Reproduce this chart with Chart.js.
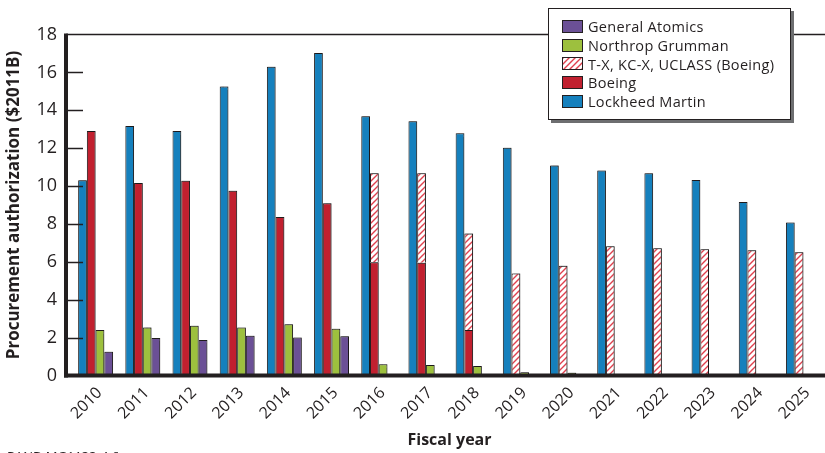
<!DOCTYPE html>
<html>
<head>
<meta charset="utf-8">
<script src="https://cdn.jsdelivr.net/npm/chart.js@4.4.1/dist/chart.umd.min.js"></script>
<style>
  html, body { margin: 0; padding: 0; background: #fff; overflow: hidden; }
  #wrap { position: relative; width: 825px; height: 453px; overflow: hidden; }
  #legend {
    position: absolute; left: 548px; top: 8px; width: 243px; height: 112px;
    box-sizing: border-box; border: 1px solid #231f20; background: #fff;
    box-shadow: 3px 3px 0 #6d6e70; padding: 8px 0 0 13px;
    font-family: 'Open Sans', sans-serif; font-size: 14.5px; letter-spacing: 0.3px; color: #231f20;
  }
  .row { display: flex; align-items: center; height: 18.8px; white-space: nowrap; }
  .sw { width: 21px; height: 13px; border: 1px solid #231f20; box-sizing: border-box; margin-right: 5px; }
  #note { position: absolute; left: 7px; top: 447px; font-family: 'Open Sans', sans-serif; font-size: 13px; color: #231f20; }
</style>
</head>
<body>
<div id="wrap">
  <canvas id="chart" width="827" height="453"></canvas>
  <div id="legend"></div>
  <div id="note">RAND MG1133-4.6</div>
</div>
<script>
// Fiscal years and procurement authorization, $2011B
var years = ['2010', '2011', '2012', '2013', '2014', '2015', '2016', '2017',
             '2018', '2019', '2020', '2021', '2022', '2023', '2024', '2025'];
var lockheed = [10.3, 13.17, 12.9, 15.26, 16.3, 17.03, 13.68, 13.42,
                12.79, 12.02, 11.09, 10.82, 10.67, 10.32, 9.16, 8.07];
var boeing = [12.9, 10.16, 10.28, 9.75, 8.37, 9.09, 5.98, 5.95,
              2.4, null, null, null, null, null, null, null];
// T-X, KC-X, UCLASS - stacked on top of Boeing
var boeingNew = [null, null, null, null, null, null, 4.7, 4.73,
                 5.09, 5.39, 5.79, 6.82, 6.72, 6.67, 6.61, 6.51];
var northrop = [2.4, 2.54, 2.63, 2.53, 2.7, 2.47, 0.6, 0.55,
                0.5, 0.17, 0.15, null, null, null, null, null];
var generalAtomics = [1.25, 1.98, 1.88, 2.1, 2.0, 2.07, null, null,
                      null, null, null, null, null, null, null, null];

var ink = '#231f20';
var font = "'Open Sans', sans-serif";
var axisShift = 6; // y axis line sits a little left of the first group

// red diagonal hatch on white
var pc = document.createElement('canvas');
pc.width = 6; pc.height = 6;
var p = pc.getContext('2d');
p.fillStyle = '#fff';
p.fillRect(0, 0, 6, 6);
p.strokeStyle = '#e0404e';
p.lineWidth = 1.4;
p.beginPath();
p.moveTo(0, 6); p.lineTo(6, 0);
p.moveTo(-1, 1); p.lineTo(1, -1);
p.moveTo(5, 7); p.lineTo(7, 5);
p.stroke();
var hatch = document.getElementById('chart').getContext('2d').createPattern(pc, 'repeat');

var shadowPlugin = {
  id: 'barShadow',
  beforeDatasetsDraw: function(chart) {
    var c = chart.ctx;
    c.save();
    c.shadowColor = 'rgba(0,0,0,0.35)';
    c.shadowBlur = 1.5;
    c.shadowOffsetX = 1;
    c.shadowOffsetY = -1;
  },
  afterDatasetsDraw: function(chart) { chart.ctx.restore(); }
};

var axisPlugin = {
  id: 'axisFrame',
  afterDraw: function(chart) {
    var c = chart.ctx, a = chart.chartArea, y = chart.scales.y;
    var x0 = a.left - axisShift;
    c.save();
    c.strokeStyle = ink;
    // top frame line
    c.lineWidth = 1.3;
    c.beginPath(); c.moveTo(x0, a.top); c.lineTo(chart.width, a.top); c.stroke();
    // inward tick marks
    c.lineWidth = 1.5;
    y.ticks.forEach(function(t) {
      if (t.value <= 0 || t.value >= 18) return;
      var py = Math.round(y.getPixelForValue(t.value)) + 0.5;
      c.beginPath(); c.moveTo(x0, py); c.lineTo(x0 + 17, py); c.stroke();
    });
    // left and bottom axis lines
    c.lineWidth = 4;
    c.beginPath(); c.moveTo(x0, a.top - 1); c.lineTo(x0, a.bottom + 2); c.stroke();
    c.beginPath(); c.moveTo(x0 - 2, a.bottom); c.lineTo(chart.width, a.bottom); c.stroke();
    c.restore();
  }
};

var chart = new Chart(document.getElementById('chart'), {
  type: 'bar',
  data: {
    labels: years,
    datasets: [
      { label: 'Lockheed Martin', data: lockheed, backgroundColor: '#1580bd', stack: 'lm' },
      { label: 'Boeing', data: boeing, backgroundColor: '#c1202f', stack: 'boeing' },
      { label: 'T-X, KC-X, UCLASS (Boeing)', data: boeingNew, backgroundColor: hatch, stack: 'boeing' },
      { label: 'Northrop Grumman', data: northrop, backgroundColor: '#9dc03e', stack: 'ng' },
      { label: 'General Atomics', data: generalAtomics, backgroundColor: '#6b5096', stack: 'ga' }
    ]
  },
  options: {
    responsive: false,
    animation: false,
    layout: { padding: { top: 34.5, left: 0, right: 0, bottom: 0 } },
    datasets: {
      bar: { borderColor: ink, borderWidth: 1, categoryPercentage: 0.74, barPercentage: 1 }
    },
    plugins: { legend: { display: false }, tooltip: { enabled: false } },
    scales: {
      x: {
        stacked: true,
        grid: { display: false },
        border: { display: false },
        ticks: { color: ink, font: { family: font, size: 16 }, minRotation: 45, maxRotation: 45, padding: 0, labelOffset: 4 },
        title: { display: true, text: 'Fiscal year', color: ink, font: { family: font, size: 16, weight: 'bold' }, padding: { top: 0, bottom: 3 } },
        afterFit: function(s) { s.height = 77.5; }
      },
      y: {
        stacked: true,
        min: 0, max: 18,
        grid: { display: false, drawTicks: false },
        border: { display: false },
        ticks: { stepSize: 2, color: ink, font: { family: font, size: 18 }, padding: 15 },
        title: { display: true, text: 'Procurement authorization ($2011B)', color: ink, font: { family: font, size: 17, weight: 'bold' }, padding: { top: 4, bottom: 0 } },
        afterFit: function(s) { s.width = 72; }
      }
    }
  },
  plugins: [shadowPlugin, axisPlugin]
});

// legend box, reversed dataset order
var legend = document.getElementById('legend');
var hatchUrl = pc.toDataURL();
chart.data.datasets.slice().reverse().forEach(function(ds) {
  var row = document.createElement('div');
  row.className = 'row';
  var sw = document.createElement('span');
  sw.className = 'sw';
  if (ds.backgroundColor === hatch) sw.style.backgroundImage = 'url(' + hatchUrl + ')';
  else sw.style.background = ds.backgroundColor;
  row.appendChild(sw);
  row.appendChild(document.createTextNode(ds.label));
  legend.appendChild(row);
});
</script>
</body>
</html>
